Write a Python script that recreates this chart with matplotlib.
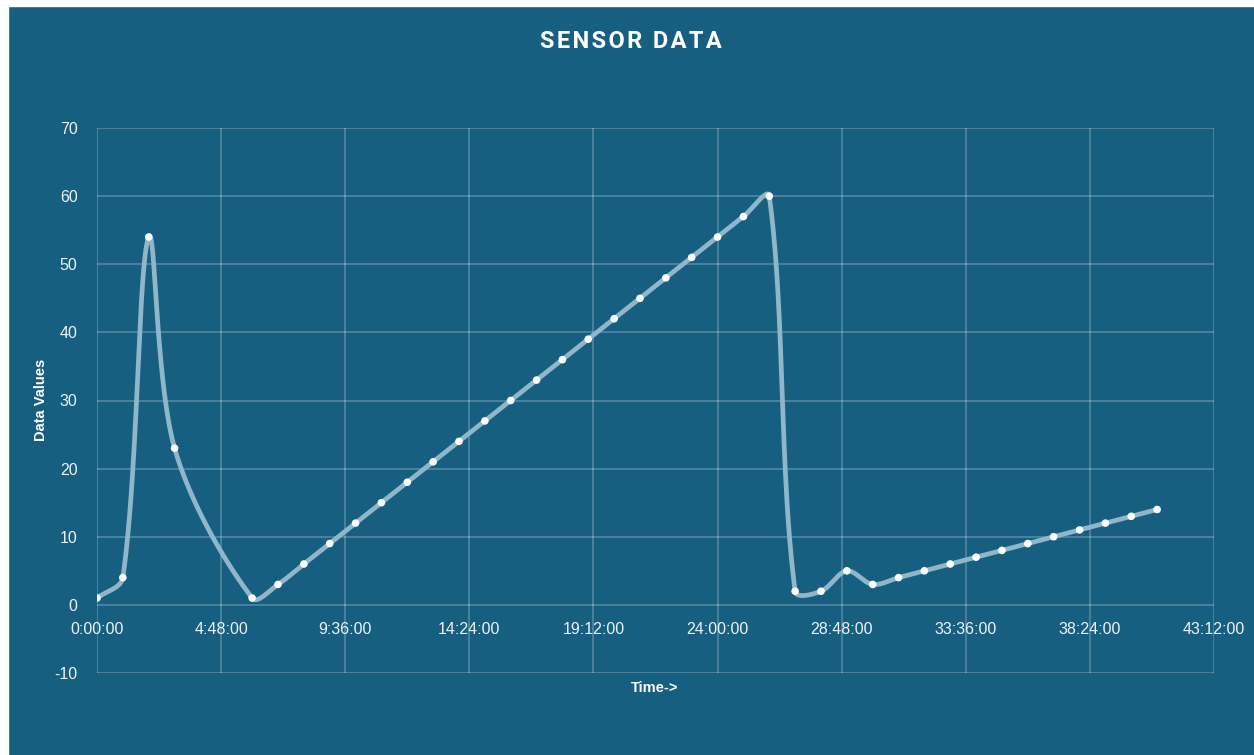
import numpy as np
import matplotlib.pyplot as plt
from matplotlib.ticker import FuncFormatter, MultipleLocator

plt.rcParams['axes.unicode_minus'] = False

# sensor readings, time in hours
hours = [0, 1, 2, 3, 6, 7, 8, 9, 10, 11, 12, 13, 14, 15, 16, 17, 18, 19, 20,
         21, 22, 23, 24, 25, 26, 27, 28, 29, 30, 31, 32, 33, 34, 35, 36, 37,
         38, 39, 40, 41]
values = [1, 4, 54, 23, 1, 3, 6, 9, 12, 15, 18, 21, 24, 27, 30, 33, 36, 39, 42,
          45, 48, 51, 54, 57, 60, 2, 2, 5, 3, 4, 5, 6, 7, 8, 9, 10,
          11, 12, 13, 14]

BG = '#165f80'
LINE = '#8fb6c9'
TXT = '#eef3f6'


def smooth_curve(xs, ys, sx, sy, n=60):
    # bezier smoothing like a spreadsheet "smoothed line":
    # tangents weighted by segment lengths, worked out in screen units
    pts = np.column_stack([np.asarray(xs) * sx, np.asarray(ys) * sy]).astype(float)
    out = []
    for i in range(len(pts) - 1):
        p0 = pts[i - 1] if i > 0 else pts[i]
        p1 = pts[i]
        p2 = pts[i + 1]
        p3 = pts[i + 2] if i + 2 < len(pts) else pts[i + 1]
        d01 = np.hypot(*(p1 - p0))
        d12 = np.hypot(*(p2 - p1))
        d23 = np.hypot(*(p3 - p2))
        c1 = p1 + (p2 - p0) * d12 / (d01 + d12) / 3
        c2 = p2 - (p3 - p1) * d12 / (d12 + d23) / 3
        t = np.linspace(0, 1, n)[:, None]
        seg = ((1 - t) ** 3) * p1 + 3 * ((1 - t) ** 2) * t * c1 \
            + 3 * (1 - t) * t ** 2 * c2 + t ** 3 * p2
        out.append(seg if i == 0 else seg[1:])
    out = np.vstack(out)
    return out[:, 0] / sx, out[:, 1] / sy


def hms(x, pos):
    total = int(round(x * 60))
    return f"{total // 60}:{total % 60:02d}:00"


fig = plt.figure(figsize=(12.54, 7.55), dpi=100)
fig.patch.set_facecolor(BG)
# white strip at top and left like the screenshot
fig.patches.append(plt.Rectangle((0, 0), 8 / 1254, 1, transform=fig.transFigure,
                                 color='white', zorder=0))
fig.patches.append(plt.Rectangle((0, 1 - 6 / 755), 1, 6 / 755, transform=fig.transFigure,
                                 color='white', zorder=0))

ax_w, ax_h = 1214 - 97, 673 - 128
ax = fig.add_axes([97 / 1254, 82 / 755, ax_w / 1254, ax_h / 755])
ax.set_facecolor(BG)

xmax, ymin, ymax = 43.2, -10, 70
cx, cy = smooth_curve(hours, values, ax_w / xmax, ax_h / (ymax - ymin))
ax.plot(cx, cy, color=LINE, lw=3.4, solid_capstyle='round', zorder=3)
ax.scatter(hours, values, s=30, color='white', zorder=4, edgecolors='none')

ax.set_xlim(0, xmax)
ax.set_ylim(ymin, ymax)
ax.xaxis.set_major_locator(MultipleLocator(4.8))
ax.xaxis.set_major_formatter(FuncFormatter(hms))
ax.yaxis.set_major_locator(MultipleLocator(10))

ax.grid(True, color='white', alpha=0.28, lw=1.1)
ax.set_axisbelow(True)
for s in ax.spines.values():
    s.set_visible(False)
ax.spines['bottom'].set_position(('data', 0))

ax.tick_params(axis='both', length=0, colors=TXT, labelsize=11.5)
ax.tick_params(axis='x', pad=12)
ax.tick_params(axis='y', pad=14)
for lab in ax.get_xticklabels() + ax.get_yticklabels():
    lab.set_family('Liberation Sans')

fig.text(41 / 1254, 1 - 400 / 755, 'Data Values', rotation=90, ha='center', va='center',
         color='white', fontsize=10.5, fontweight='bold', family='Liberation Sans')
fig.text(655 / 1254, 1 - 688 / 755, 'Time->', ha='center', va='center',
         color='white', fontsize=10.5, fontweight='bold', family='Liberation Sans')
fig.text(631 / 1254, 1 - 41 / 755, '\u200a'.join('SENSOR DATA'),
         ha='center', va='center', color='white', fontsize=17, fontweight='bold',
         family=['Roboto', 'DejaVu Sans'])

fig.savefig('out.png', dpi=100, facecolor=BG)
